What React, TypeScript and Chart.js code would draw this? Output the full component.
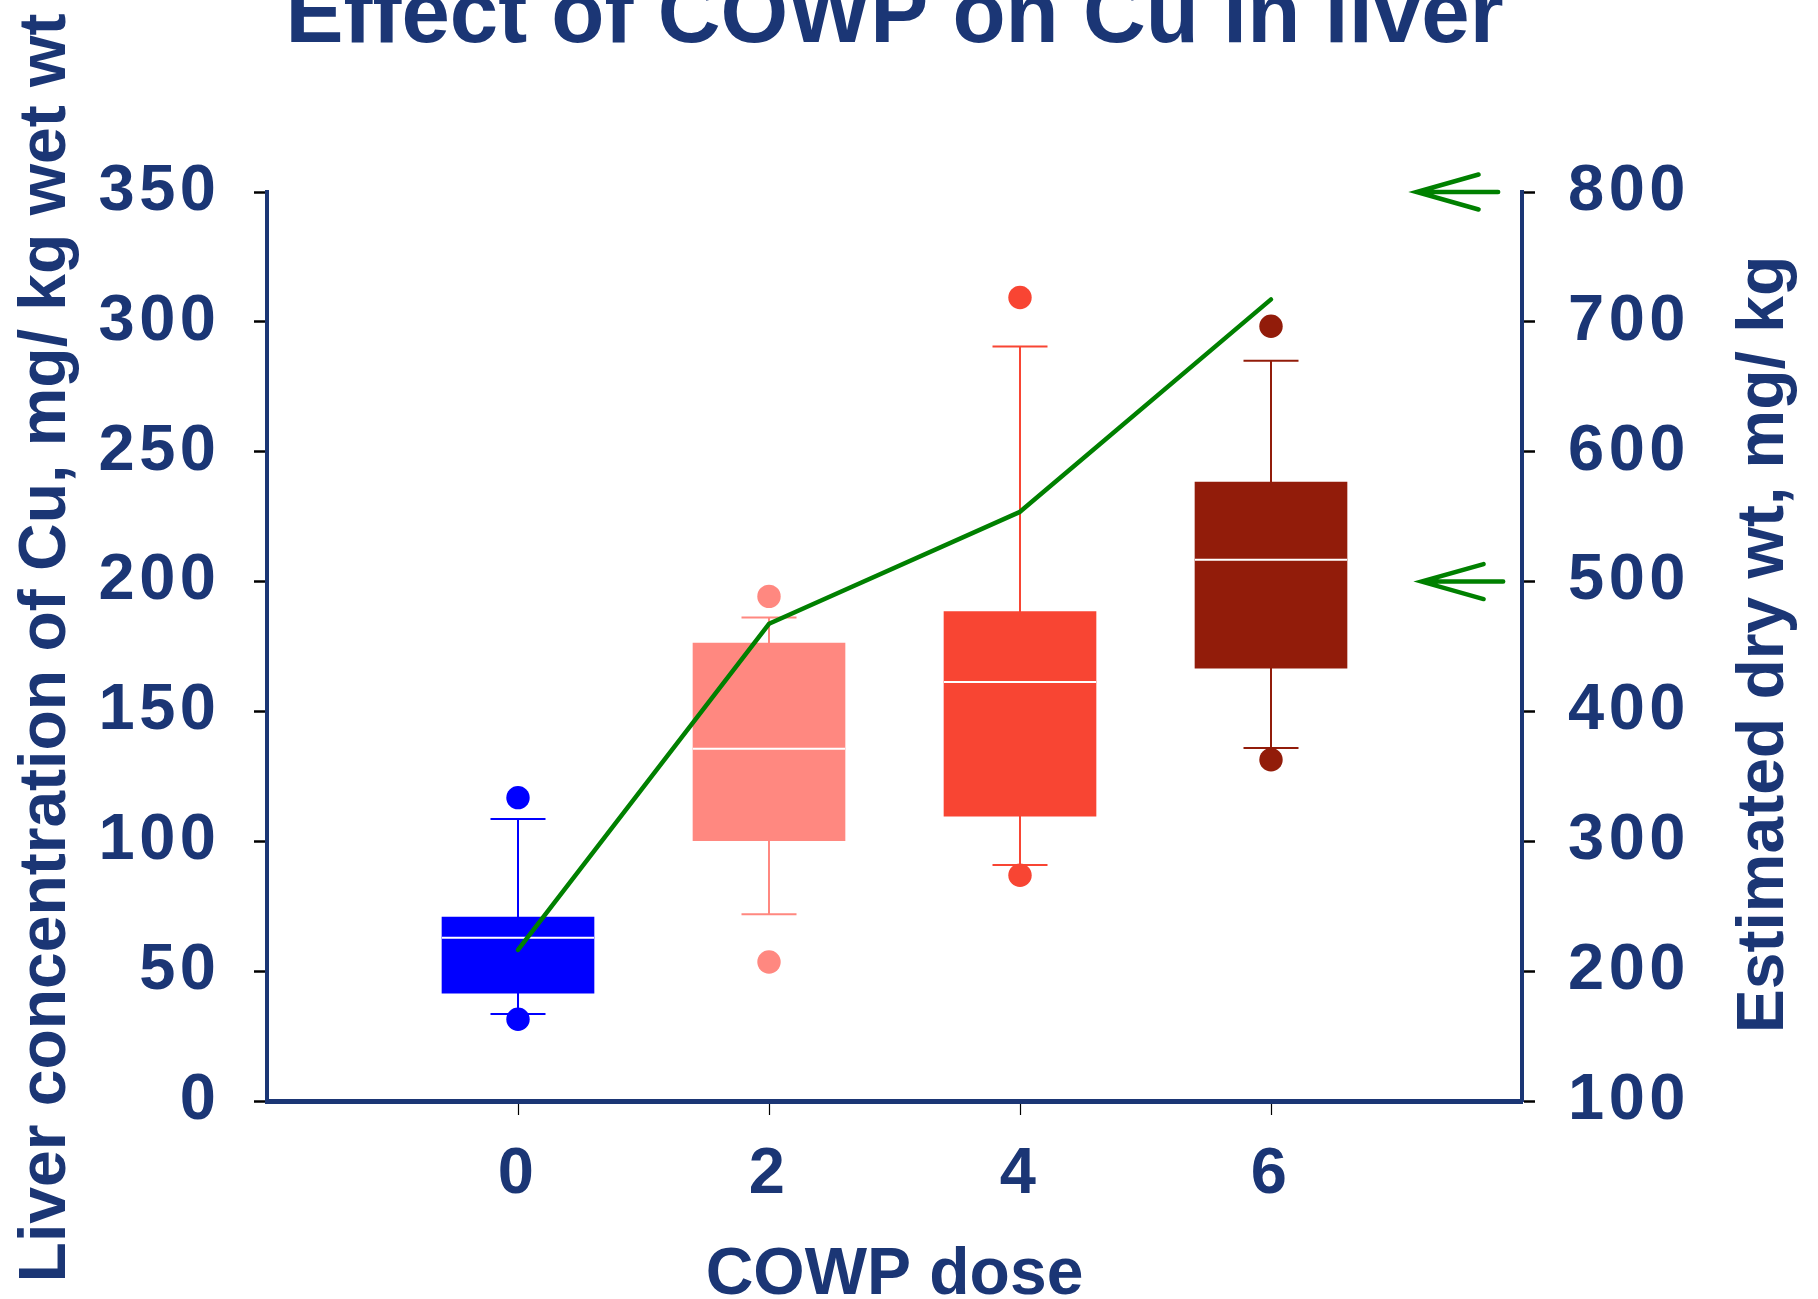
import { useEffect, useRef } from 'react';
import { Chart, registerables } from 'chart.js';

Chart.register(...registerables);

// ---- text ----
const TITLE = 'Effect of COWP on Cu in liver';
const X_TITLE = 'COWP dose';
const Y_TITLE = 'Liver concentration of Cu, mg/ kg wet wt';
const Y2_TITLE = 'Estimated dry wt, mg/ kg';

// ---- data ----
const doses = [0, 2, 4, 6];
const whiskerLow = [33.5, 71.9, 90.9, 135.9];
const q1 = [41.5, 100.2, 109.7, 166.7];
const median = [62.9, 135.6, 161.3, 208.4];
const q3 = [70.8, 176.3, 188.4, 238.3];
const whiskerHigh = [108.6, 186.2, 290.5, 285.0];
const outlierLow = [31.5, 53.5, 86.9, 131.4];
const outlierHigh = [116.8, 194.3, 309.4, 298.3];
const dryWeight = [216.3, 467.5, 553.7, 717.3];
const arrowLevels = [800, 500];

// ---- styles ----
const NAVY = '#1b3675';
const GREEN = '#008000';
const FONT = '"Liberation Sans", Arial, Helvetica, sans-serif';
const boxColors = ['#0000FF', '#FF8880', '#F84533', '#921C0A'];
const TICK_SPACING = 4.5;
const ARROW_X = [
  { tip: 7.16, tail: 7.81 },
  { tip: 7.2, tail: 7.85 },
];

const extrasPlugin = {
  id: 'boxExtras',
  beforeDraw(chart: any) {
    (chart.ctx as any).letterSpacing = `${TICK_SPACING}px`;
  },
  beforeDatasetsDraw(chart: any) {
    const { ctx } = chart;
    const xs = chart.scales.x;
    const ys = chart.scales.y;
    ctx.save();
    ctx.lineWidth = 2;
    doses.forEach((d, i) => {
      const px = xs.getPixelForValue(d);
      ctx.strokeStyle = boxColors[i];
      ctx.beginPath();
      ctx.moveTo(px, ys.getPixelForValue(whiskerLow[i]));
      ctx.lineTo(px, ys.getPixelForValue(whiskerHigh[i]));
      for (const v of [whiskerLow[i], whiskerHigh[i]]) {
        const py = ys.getPixelForValue(v);
        ctx.moveTo(px - 27.5, py);
        ctx.lineTo(px + 27.5, py);
      }
      ctx.stroke();
    });
    ctx.restore();
  },
  afterDatasetDraw(chart: any, args: any) {
    if (args.index !== 0) return;
    const { ctx } = chart;
    const ys = chart.scales.y;
    ctx.save();
    ctx.strokeStyle = '#ffffff';
    ctx.lineWidth = 2;
    args.meta.data.forEach((el: any, i: number) => {
      const py = ys.getPixelForValue(median[i]);
      ctx.beginPath();
      ctx.moveTo(el.x - el.width / 2, py);
      ctx.lineTo(el.x + el.width / 2, py);
      ctx.stroke();
    });
    ctx.restore();
  },
  afterDraw(chart: any) {
    const { ctx, chartArea } = chart;
    const xs = chart.scales.x;
    const y2 = chart.scales.y2;
    ctx.save();
    (ctx as any).letterSpacing = '0px';
    // arrows
    ctx.strokeStyle = GREEN;
    ctx.lineWidth = 4.5;
    ctx.lineCap = 'round';
    arrowLevels.forEach((lvl, i) => {
      const py = y2.getPixelForValue(lvl);
      const tip = xs.getPixelForValue(ARROW_X[i].tip);
      const tail = xs.getPixelForValue(ARROW_X[i].tail);
      ctx.beginPath();
      ctx.moveTo(tail, py);
      ctx.lineTo(tip, py);
      ctx.moveTo(tip + 62, py - 17.5);
      ctx.lineTo(tip, py);
      ctx.lineTo(tip + 62, py + 17.5);
      ctx.stroke();
    });
    // titles
    ctx.fillStyle = NAVY;
    ctx.textBaseline = 'alphabetic';
    ctx.textAlign = 'center';
    const cx = (chartArea.left + chartArea.right) / 2;
    const cy = (chartArea.top + chartArea.bottom) / 2;
    ctx.font = `bold 87px ${FONT}`;
    ctx.fillText(TITLE, cx, 42);
    ctx.font = `bold 66px ${FONT}`;
    ctx.fillText(X_TITLE, cx, 1294);
    ctx.save();
    ctx.translate(65, cy + 1.5);
    ctx.rotate(-Math.PI / 2);
    ctx.fillText(Y_TITLE, 0, 0);
    ctx.restore();
    ctx.save();
    ctx.translate(1783, cy - 2);
    ctx.rotate(-Math.PI / 2);
    ctx.fillText(Y2_TITLE, 0, 0);
    ctx.restore();
    ctx.restore();
  },
};

export default function App() {
  const ref = useRef<HTMLCanvasElement | null>(null);

  useEffect(() => {
    if (!ref.current) return;
    const tickFont = { family: FONT, size: 65, weight: 'bold' as const };
    const chart = new Chart(ref.current, {
      type: 'bar',
      data: {
        datasets: [
          {
            type: 'bar',
            label: 'Cu',
            data: doses.map((d, i) => ({ x: d, y: [q1[i], q3[i]] })) as any,
            backgroundColor: boxColors,
            borderWidth: 0,
            barThickness: 152,
            order: 3,
            yAxisID: 'y',
          },
          {
            type: 'line',
            label: 'Outliers',
            data: [
              ...doses.map((d, i) => ({ x: d, y: outlierLow[i] })),
              ...doses.map((d, i) => ({ x: d, y: outlierHigh[i] })),
            ],
            showLine: false,
            pointRadius: 11.7,
            pointBackgroundColor: [...boxColors, ...boxColors],
            pointBorderWidth: 0,
            order: 2,
            yAxisID: 'y',
          },
          {
            type: 'line',
            label: 'Dry wt',
            data: doses.map((d, i) => ({ x: d, y: dryWeight[i] })),
            borderColor: GREEN,
            borderWidth: 4.5,
            pointRadius: 0,
            borderCapStyle: 'round',
            borderJoinStyle: 'round',
            tension: 0,
            order: 1,
            yAxisID: 'y2',
          },
        ] as any,
      },
      options: {
        responsive: false,
        animation: false,
        devicePixelRatio: 1,
        layout: { padding: { top: 192, left: 0, right: 0, bottom: 0 } },
        plugins: {
          legend: { display: false },
          tooltip: { enabled: false },
          title: { display: false },
        },
        scales: {
          x: {
            type: 'linear',
            position: 'bottom',
            min: -2,
            max: 8,
            offset: false,
            afterBuildTicks: (s: any) => {
              s.ticks = doses.map((v) => ({ value: v }));
            },
            afterFit: (s: any) => {
              s.height = 198;
            },
            ticks: {
              font: tickFont,
              color: NAVY,
              padding: 21,
              maxRotation: 0,
              autoSkip: false,
            },
            grid: {
              display: true,
              drawOnChartArea: false,
              drawTicks: true,
              tickLength: 14,
              tickColor: '#000000',
              tickWidth: 1.2,
              offset: false,
            },
            border: { display: true, color: NAVY, width: 5 },
          },
          y: {
            type: 'linear',
            position: 'left',
            min: 0,
            max: 350,
            afterFit: (s: any) => {
              s.width = 267;
            },
            ticks: { stepSize: 50, font: tickFont, color: NAVY, padding: 38 - TICK_SPACING },
            grid: {
              display: true,
              drawOnChartArea: false,
              drawTicks: true,
              tickLength: 13,
              tickColor: '#000000',
              tickWidth: 2.5,
            },
            border: { display: true, color: NAVY, width: 4 },
          },
          y2: {
            type: 'linear',
            position: 'right',
            min: 100,
            max: 800,
            afterFit: (s: any) => {
              s.width = 296;
            },
            ticks: { stepSize: 100, font: tickFont, color: NAVY, padding: 33 },
            grid: {
              display: true,
              drawOnChartArea: false,
              drawTicks: true,
              tickLength: 13,
              tickColor: '#000000',
              tickWidth: 2.5,
            },
            border: { display: true, color: NAVY, width: 4 },
          },
        } as any,
      },
      plugins: [extrasPlugin],
    });
    return () => chart.destroy();
  }, []);

  return (
    <div style={{ position: 'absolute', left: 0, top: 0, width: 1818, height: 1299, background: '#ffffff' }}>
      <canvas ref={ref} width={1818} height={1299} style={{ display: 'block', width: 1818, height: 1299 }} />
    </div>
  );
}
